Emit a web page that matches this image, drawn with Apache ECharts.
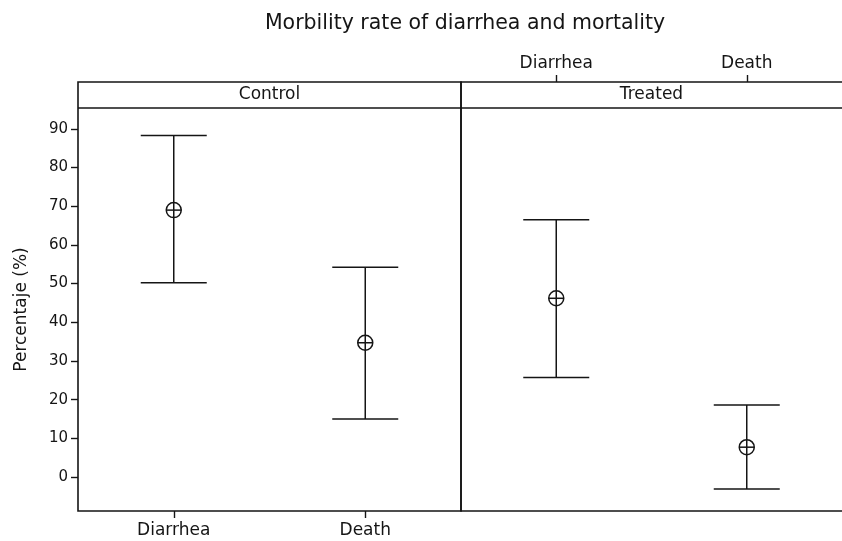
<!DOCTYPE html>
<html><head><meta charset="utf-8">
<script src="https://cdn.jsdelivr.net/npm/echarts@6/dist/echarts.min.js"></script>
<style>html,body{margin:0;padding:0;background:#fff}#c{width:842px;height:541px}</style>
</head><body><div id="c"></div>
<script>
const titleText = 'Morbility rate of diarrhea and mortality';
const categories = ['Diarrhea', 'Death'];
const panels = ['Control', 'Treated'];
const controlMean = [69.0, 34.7];
const controlLow = [50.2, 15.0];
const controlHigh = [88.3, 54.2];
const treatedMean = [46.2, 7.7];
const treatedLow = [25.7, -3.1];
const treatedHigh = [66.5, 18.6];
const yTicks = [0, 10, 20, 30, 40, 50, 60, 70, 80, 90];
const yLabel = 'Percentaje (%)';

const FONT = 'DejaVu Sans';
const INK = '#151515';
const L = 78, DIV = 461, R = 844, TOP = 82, STRIP = 108, BOT = 511;

function rows(mean, low, high) {
  return mean.map((m, i) => [i, m, low[i], high[i]]);
}
function renderItem(params, api) {
  const x = api.value(0);
  const c = api.coord([x, api.value(1)]);
  const lo = api.coord([x, api.value(2)]);
  const hi = api.coord([x, api.value(3)]);
  const w = 33, r = 7.5;
  const st = {stroke: INK, lineWidth: 1.5, fill: null};
  return {type: 'group', children: [
    {type: 'line', shape: {x1: c[0], y1: hi[1], x2: c[0], y2: c[1] - r}, style: st},
    {type: 'line', shape: {x1: c[0], y1: c[1] + r, x2: c[0], y2: lo[1]}, style: st},
    {type: 'line', shape: {x1: c[0] - w, y1: hi[1], x2: c[0] + w, y2: hi[1]}, style: st},
    {type: 'line', shape: {x1: c[0] - w, y1: lo[1], x2: c[0] + w, y2: lo[1]}, style: st},
    {type: 'circle', shape: {cx: c[0], cy: c[1], r: r}, style: {stroke: INK, lineWidth: 1.5, fill: '#fff'}},
    {type: 'line', shape: {x1: c[0] - r, y1: c[1], x2: c[0] + r, y2: c[1]}, style: st},
    {type: 'line', shape: {x1: c[0], y1: c[1] - r, x2: c[0], y2: c[1] + r}, style: st}
  ]};
}

const yMin = -8.8, yMax = 95.4;
const chart = echarts.init(document.getElementById('c'), null, {renderer: 'canvas'});
chart.setOption({
  animation: false,
  textStyle: {fontFamily: FONT},
  title: {text: titleText, left: 460, top: 8, textAlign: 'center',
    textStyle: {fontFamily: FONT, fontSize: 20.5, fontWeight: 'normal', color: INK}},
  grid: [
    {left: L, top: STRIP, width: DIV - L, height: BOT - STRIP},
    {left: DIV, top: STRIP, width: R - DIV, height: BOT - STRIP}
  ],
  xAxis: [
    {gridIndex: 0, type: 'category', data: categories, position: 'bottom', boundaryGap: true,
      axisLine: {show: false, onZero: false}, axisTick: {show: true, alignWithLabel: true, length: 7, lineStyle: {color: INK, width: 1.4}},
      axisLabel: {color: INK, fontSize: 17, margin: 11, fontFamily: FONT}, splitLine: {show: false}},
    {gridIndex: 1, type: 'category', data: categories, position: 'top', offset: STRIP - TOP, boundaryGap: true,
      axisLine: {show: false, onZero: false}, axisTick: {show: true, alignWithLabel: true, length: 7, lineStyle: {color: INK, width: 1.4}},
      axisLabel: {color: INK, fontSize: 17, margin: 10, fontFamily: FONT}, splitLine: {show: false}}
  ],
  yAxis: [
    {gridIndex: 0, type: 'value', min: yMin, max: yMax,
      axisLine: {show: false, onZero: false},
      axisTick: {show: true, length: 7, customValues: yTicks, lineStyle: {color: INK, width: 1.4}},
      axisLabel: {show: true, customValues: yTicks, color: INK, fontSize: 15, margin: 10, fontFamily: FONT},
      splitLine: {show: false},
      name: yLabel, nameLocation: 'middle', nameGap: 48, nameRotate: 90,
      nameTextStyle: {color: INK, fontSize: 17, fontFamily: FONT}},
    {gridIndex: 1, type: 'value', min: yMin, max: yMax, show: false}
  ],
  graphic: [
    {type: 'rect', shape: {x: L, y: TOP, width: DIV - L, height: BOT - TOP}, style: {fill: null, stroke: INK, lineWidth: 1.6}, silent: true},
    {type: 'rect', shape: {x: DIV, y: TOP, width: R - DIV, height: BOT - TOP}, style: {fill: null, stroke: INK, lineWidth: 1.6}, silent: true},
    {type: 'line', shape: {x1: L, y1: STRIP, x2: R, y2: STRIP}, style: {stroke: INK, lineWidth: 1.6}, silent: true},
    {type: 'text', x: (L + DIV) / 2, y: (TOP + STRIP) / 2, style: {text: panels[0], fill: INK, font: '17px "DejaVu Sans"', textAlign: 'center', textVerticalAlign: 'middle'}},
    {type: 'text', x: (DIV + R) / 2 - 1, y: (TOP + STRIP) / 2, style: {text: panels[1], fill: INK, font: '17px "DejaVu Sans"', textAlign: 'center', textVerticalAlign: 'middle'}}
  ],
  series: [
    {type: 'custom', xAxisIndex: 0, yAxisIndex: 0, renderItem: renderItem, data: rows(controlMean, controlLow, controlHigh), clip: false},
    {type: 'custom', xAxisIndex: 1, yAxisIndex: 1, renderItem: renderItem, data: rows(treatedMean, treatedLow, treatedHigh), clip: false}
  ]
});
</script></body></html>
